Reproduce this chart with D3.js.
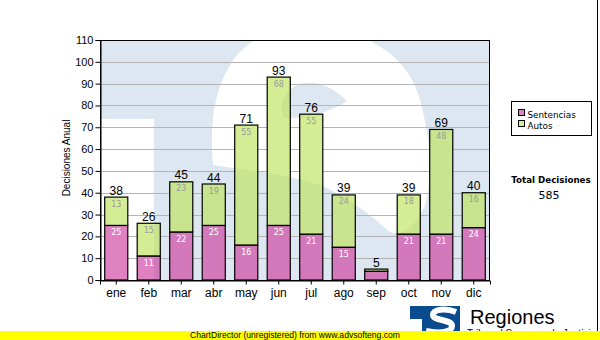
<!DOCTYPE html>
<html><head><meta charset="utf-8">
<script src="https://cdn.jsdelivr.net/npm/d3@7"></script>
<style>html,body{margin:0;padding:0;background:#fff}svg{display:block}</style>
</head><body>
<svg id="c" width="600" height="340"></svg>
<script>
const months = ["ene","feb","mar","abr","may","jun","jul","ago","sep","oct","nov","dic"];
const sentencias = [25,11,22,25,16,25,21,15,4,21,21,24];
const autos = [13,15,23,19,55,68,55,24,1,18,48,16];
const yTicks = [0,10,20,30,40,50,60,70,80,90,100,110];
const seriesNames = ["Sentencias","Autos"];
const total = 585;

const svg = d3.select("#c");
const L=100,R=490,T=40,B=280;
const arial = "'Liberation Sans', Arial, sans-serif";
const verd = "'DejaVu Sans', Verdana, sans-serif";

const x = d3.scaleBand().domain(months).range([L,R]).paddingInner(0.29).paddingOuter(0.145);
const y = d3.scaleLinear().domain([0,110]).range([B,T]);

const rows = months.map((m,i)=>({m, s:sentencias[i], a:autos[i]}));
const stack = d3.stack().keys(["s","a"])(rows);

const defs = svg.append("defs");
defs.append("clipPath").attr("id","pc").append("rect").attr("x",L).attr("y",T).attr("width",R-L).attr("height",B-T);
const barClip = defs.append("clipPath").attr("id","bc");
barClip.selectAll("rect").data(rows).join("rect")
  .attr("x",d=>x(d.m)).attr("width",x.bandwidth())
  .attr("y",d=>y(d.s+d.a)).attr("height",d=>y(0)-y(d.s+d.a));

function watermark(g){
  g.append("rect").attr("x",L).attr("y",T).attr("width",R-L).attr("height",B-T).attr("fill","#dde7f1");
  g.append("rect").attr("x",L).attr("y",119).attr("width",54).attr("height",170).attr("fill","#fff");
  g.append("path").attr("fill","#fff").attr("fill-rule","evenodd").attr("d",
   "M213,165 C210,130 212,95 230,65 C245,40 270,28 310,28 C370,28 410,60 420,100 C428,130 435,170 425,205 C415,230 400,236 390,232 C370,215 350,198 320,185 C280,172 240,170 213,165 Z " +
   "M283,100 C290,82 310,78 330,88 C340,94 345,99 347,101 C330,112 310,118 285,118 C281,112 281,106 283,100 Z");
}
watermark(svg.append("g").attr("clip-path","url(#pc)"));

// gridlines
svg.append("g").selectAll("line").data(yTicks.filter(d=>d>0&&d<110)).join("line")
  .attr("x1",L).attr("x2",R).attr("y1",d=>Math.round(y(d))+0.5).attr("y2",d=>Math.round(y(d))+0.5)
  .attr("stroke","#b4b4b4").attr("stroke-width",1);

// background copy under bars (gridlines hidden behind bars)
watermark(svg.append("g").attr("clip-path","url(#pc)").append("g").attr("clip-path","url(#bc)"));

// bars
const colors = {s:"rgb(206,60,158)", a:"rgb(189,226,90)"};
const gBars = svg.append("g");
stack.forEach(layer=>{
  gBars.append("g").selectAll("rect").data(layer).join("rect")
    .attr("x",d=>x(d.data.m)).attr("width",x.bandwidth())
    .attr("y",d=>y(d[1])).attr("height",d=>y(d[0])-y(d[1]))
    .attr("fill",colors[layer.key]).attr("fill-opacity",0.65)
    .attr("stroke","#000").attr("stroke-width",1.2);
});
// segment labels
stack.forEach(layer=>{
  gBars.append("g").selectAll("text").data(layer.filter(d=>d[1]-d[0]>=8)).join("text")
    .attr("x",d=>x(d.data.m)+x.bandwidth()/2).attr("y",d=>y(d[1])+9.5)
    .attr("text-anchor","middle").attr("font-family",verd).attr("font-size","8px")
    .attr("fill",layer.key==="s"?"#ffffff":"#9a9a9a")
    .text(d=>d[1]-d[0]);
});
// totals
gBars.append("g").selectAll("text").data(rows).join("text")
  .attr("x",d=>x(d.m)+x.bandwidth()/2).attr("y",d=>y(d.s+d.a)-2.5)
  .attr("text-anchor","middle").attr("font-family",arial).attr("font-size","12px").attr("fill","#000")
  .text(d=>d.s+d.a);

// frame
svg.append("rect").attr("x",L+0.5).attr("y",T+0.5).attr("width",R-L-1).attr("height",B-T)
  .attr("fill","none").attr("stroke","#000").attr("stroke-width",1);

// axes
const ya = svg.append("g").attr("transform",`translate(${L+0.5},0)`)
  .call(d3.axisLeft(y).tickValues(yTicks).tickSize(5).tickPadding(2));
ya.select(".domain").attr("stroke","#000");
ya.selectAll("text").attr("font-family",arial).attr("font-size","11px").attr("fill","#000");
const xa = svg.append("g").attr("transform",`translate(0,${B+0.5})`)
  .call(d3.axisBottom(x).tickSize(4).tickPadding(4));
xa.select(".domain").attr("stroke","#000");
xa.selectAll("text").attr("font-family",arial).attr("font-size","12px").attr("fill","#000");

svg.append("text").attr("transform","translate(70,158) rotate(-90)").attr("text-anchor","middle")
  .attr("font-family",arial).attr("font-size","10px").attr("fill","#000").text("Decisiones Anual");

// legend
const lg = svg.append("g");
lg.append("rect").attr("x",511.5).attr("y",101.5).attr("width",80).attr("height",34).attr("fill","#fff").attr("stroke","#000");
seriesNames.forEach((n,i)=>{
  const k = i===0?"s":"a";
  lg.append("rect").attr("x",518.5).attr("y",109.5+i*11).attr("width",6).attr("height",6)
    .attr("fill",colors[k]).attr("fill-opacity",0.65).attr("stroke","#000");
  lg.append("text").attr("x",527.5).attr("y",117.5+i*11).attr("font-family",verd).attr("font-size","8.8px").attr("fill","#000").text(n);
});
svg.append("text").attr("x",551).attr("y",182.5).attr("text-anchor","middle").attr("font-family",verd)
  .attr("font-weight","bold").attr("font-size","8.7px").attr("fill","#000").text("Total Decisiones");
svg.append("text").attr("x",549).attr("y",198.5).attr("text-anchor","middle").attr("font-family",verd)
  .attr("font-size","11px").attr("fill","#000").text(total);

// right border line
svg.append("line").attr("x1",597.5).attr("x2",597.5).attr("y1",0).attr("y2",331).attr("stroke","#000");

// logo
defs.append("clipPath").attr("id","lc").append("rect").attr("x",410).attr("y",306).attr("width",50).attr("height",30);
const lgo = svg.append("g").attr("clip-path","url(#lc)");
lgo.append("rect").attr("x",410).attr("y",306).attr("width",50).attr("height",30).attr("fill","#0a4a8f");
lgo.append("rect").attr("x",410).attr("y",319).attr("width",12).attr("height",20).attr("fill","#fff");
lgo.append("path").attr("fill","none").attr("stroke","#fff").attr("stroke-width",6)
  .attr("d","M456,312 C446,308 433,309 433,315 C433,321 452,319 452,326 C452,332 440,334 426,331");
svg.append("text").attr("x",470).attr("y",323.5).attr("font-family",arial).attr("font-size","20px").attr("fill","#000").text("Regiones");
svg.append("text").attr("x",467).attr("y",337).attr("font-family",arial).attr("font-size","10px").attr("fill","#000")
  .text("Tribunal Supremo de Justicia");

// banner
svg.append("rect").attr("x",0).attr("y",331).attr("width",600).attr("height",9).attr("fill","#ffff00");
svg.append("text").attr("x",190).attr("y",338).attr("font-family",arial).attr("font-size","9.5px")
  .attr("textLength",210).attr("lengthAdjust","spacingAndGlyphs").attr("fill","#000")
  .text("ChartDirector (unregistered) from www.advsofteng.com");
</script>
</body></html>
